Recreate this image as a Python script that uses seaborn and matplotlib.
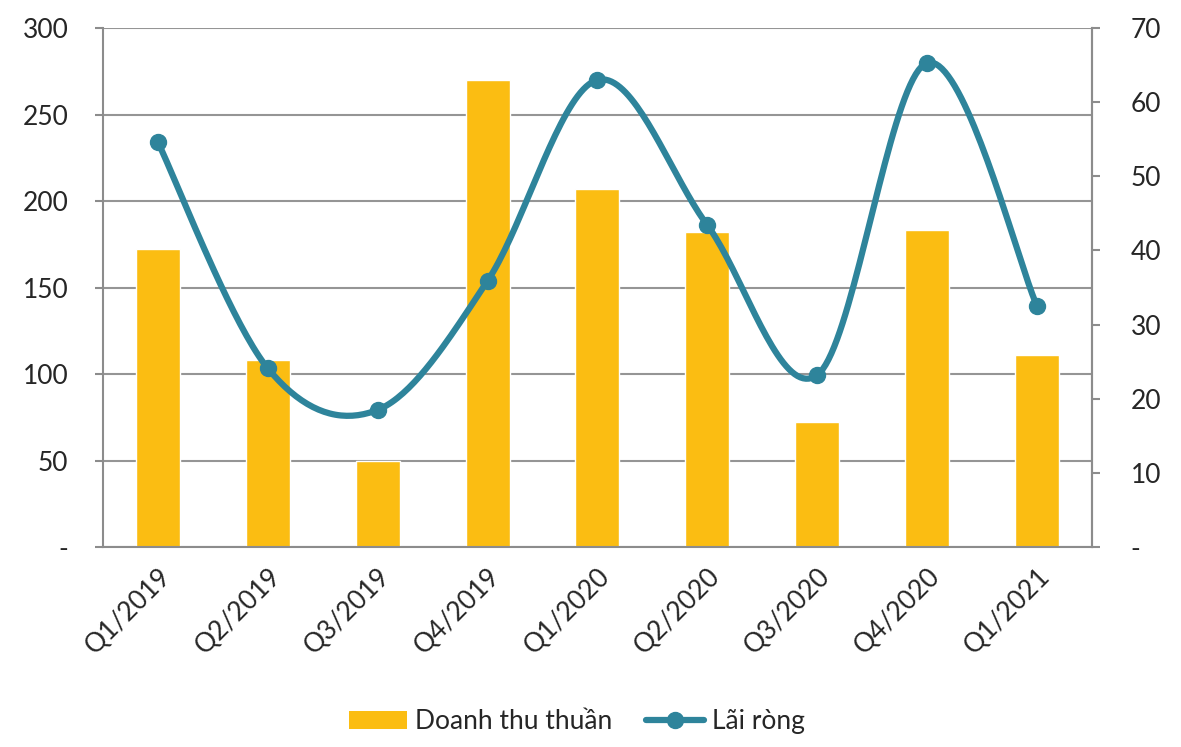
import numpy as np
import pandas as pd
import matplotlib
matplotlib.use('Agg')
import matplotlib.pyplot as plt
import seaborn as sns
from matplotlib.patches import Patch
from matplotlib.lines import Line2D

quarters = ['Q1/2019', 'Q2/2019', 'Q3/2019', 'Q4/2019', 'Q1/2020',
            'Q2/2020', 'Q3/2020', 'Q4/2020', 'Q1/2021']
doanh_thu = [172, 108, 50, 270, 207, 182, 72, 183, 111]
lai_rong = [54.6, 24.1, 18.5, 35.9, 63.0, 43.4, 23.2, 65.3, 32.5]

left_ticks = [0, 50, 100, 150, 200, 250, 300]
left_labels = ['-', '50', '100', '150', '200', '250', '300']
right_ticks = [0, 10, 20, 30, 40, 50, 60, 70]
right_labels = ['-', '10', '20', '30', '40', '50', '60', '70']

bar_color = '#FBBD12'
line_color = '#2E849B'
axis_gray = '#8C8C8C'
fs = 19

sns.set_style('white')
plt.rcParams['font.family'] = ['Lato', 'DejaVu Sans']

df = pd.DataFrame({'quarter': quarters, 'dt': doanh_thu, 'lr': lai_rong})


def smooth(xs, ys, n=40):
    # excel-like smoothed line (catmull-rom as bezier segments)
    xs = np.asarray(xs, float)
    ys = np.asarray(ys, float)
    px = np.concatenate([[xs[0]], xs, [xs[-1]]])
    py = np.concatenate([[ys[0]], ys, [ys[-1]]])
    outx, outy = [], []
    t = np.linspace(0, 1, n)
    for i in range(1, len(px) - 2):
        p0 = np.array([px[i], py[i]])
        p3 = np.array([px[i + 1], py[i + 1]])
        c1 = p0 + (p3 - np.array([px[i - 1], py[i - 1]])) / 6
        c2 = p3 - (np.array([px[i + 2], py[i + 2]]) - p0) / 6
        b = ((1 - t) ** 3)[:, None] * p0 + (3 * (1 - t) ** 2 * t)[:, None] * c1 \
            + (3 * (1 - t) * t ** 2)[:, None] * c2 + (t ** 3)[:, None] * p3
        outx.extend(b[:, 0])
        outy.extend(b[:, 1])
    return np.array(outx), np.array(outy)


fig = plt.figure(figsize=(11.81, 7.47), dpi=100)
ax = fig.add_axes([0.0872, 0.2677, 0.8374, 0.6948])

sns.barplot(data=df, x='quarter', y='dt', color=bar_color, width=0.4,
            saturation=1, ax=ax, zorder=2)
ax.set_ylim(0, 300)
ax.set_xlim(-0.5, 8.5)
ax.set_yticks(left_ticks)
ax.set_yticklabels(left_labels)
ax.set_xlabel('')
ax.set_ylabel('')
ax.yaxis.grid(True, color='#959595', linewidth=1.5, zorder=0)
ax.set_axisbelow(True)

ax.set_xticks(range(len(quarters)))
ax.set_xticklabels(quarters, rotation=45, ha='right', rotation_mode='anchor')
ax.set_xticks(np.arange(-0.5, len(quarters), 1), minor=True)
ax.tick_params(axis='x', which='major', length=0, pad=12, labelsize=fs)
ax.tick_params(axis='x', which='minor', length=6, width=1.5, color=axis_gray, direction='out')
ax.tick_params(axis='y', length=6, width=1.5, color=axis_gray, labelsize=fs, pad=19)

for side in ['left', 'bottom', 'right']:
    ax.spines[side].set_color(axis_gray)
    ax.spines[side].set_linewidth(1.5)
ax.spines['top'].set_visible(False)

ax2 = ax.twinx()
sx, sy = smooth(range(len(quarters)), lai_rong)
ax2.plot(sx, sy, color=line_color, linewidth=4.5, solid_capstyle='round', zorder=3)
ax2.plot(range(len(quarters)), lai_rong, linestyle='', marker='o',
         markersize=11.5, color=line_color, zorder=4)
ax2.set_ylim(0, 70)
ax2.set_yticks(right_ticks)
ax2.set_yticklabels(right_labels)
ax2.yaxis.set_tick_params(which='major', length=6, width=1.5, color=axis_gray,
                          labelsize=fs, pad=22, direction='out')
for side in ['left', 'top', 'bottom']:
    ax2.spines[side].set_visible(False)
ax2.spines['right'].set_color(axis_gray)
ax2.spines['right'].set_linewidth(1.5)

handles = [Patch(facecolor=bar_color, edgecolor='none'),
           Line2D([0], [0], color=line_color, linewidth=4.5, marker='o', markersize=11.5)]
fig.legend(handles, ['Doanh thu thuần', 'Lãi ròng'], loc='center',
           bbox_to_anchor=(0.4886, 0.0335), ncol=2, frameon=False, fontsize=fs,
           handlelength=2.2, handletextpad=0.3, columnspacing=1.3)

fig.savefig('out.png', dpi=100)
